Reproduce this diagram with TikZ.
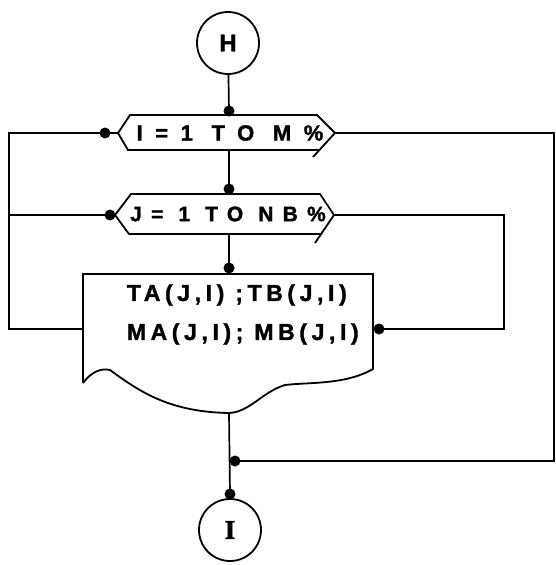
\documentclass[tikz,border=0pt]{standalone}
\usepackage{fontspec}
\setmainfont{Liberation Sans}
\newfontfamily\labfonta{Liberation Sans Bold}[LetterSpace=57,FakeBold=1.5]
\newfontfamily\labfontb{Liberation Sans Bold}[LetterSpace=44,FakeBold=1.5]
\newfontfamily\boxfont{Liberation Sans Bold}[LetterSpace=20,FakeBold=1.5]
\newfontfamily\circfont{Liberation Serif Bold}[FakeBold=1.5]
\newfontfamily\hfont{Liberation Sans Bold}[FakeBold=1.5]
\begin{document}
\begin{tikzpicture}[x=1pt,y=-1pt,line width=1.8pt,
  conn/.style={circle,draw,minimum size=62pt,inner sep=0pt},
  dotm/.style={circle,fill,inner sep=0pt,minimum size=11pt},
  hexlabel/.style={inner sep=0pt},
  boxlabel/.style={inner sep=0pt,anchor=west,font=\boxfont\fontsize{23}{25}\selectfont},
  line/.style={line width=1.7pt}]
\useasboundingbox (0,0) rectangle (555,565);

% connectors (circles)
\node[conn,font=\hfont\fontsize{24}{26}\selectfont] (H) at (228,43) {H};
\node[conn,font=\circfont\fontsize{27}{28}\selectfont] (I) at (230,530) {I};

% loop 1 hexagon
\coordinate (h1w) at (118,133);
\coordinate (h1e) at (335,133);
\coordinate (h1s) at (229,150);
\draw (h1w) -- (130,115) -- (317,115) -- (h1e) -- (313,157);
\draw (h1w) -- (128,150) -- (320,150);
\node[hexlabel,font=\labfonta\fontsize{22}{24}\selectfont] (t1) at (230,133) {I=1 TO M\%};

% loop 2 hexagon
\coordinate (h2w) at (115,215);
\coordinate (h2e) at (334,215);
\coordinate (h2s) at (229,234);
\draw (h2w) -- (131,194) -- (320,194) -- (h2e) -- (315,243);
\draw (h2w) -- (129,234) -- (322,234);
\node[hexlabel,font=\labfontb\fontsize{21}{24}\selectfont] (t2) at (228,214) {J= 1 TO NB\%};

% document box
\coordinate (boxL) at (83,329);
\coordinate (boxR) at (373,329);
\coordinate (boxB) at (229,413);
\draw (83,383) -- (83,274) -- (373,274) -- (373,369)
  .. controls (345,385) and (310,382) .. (285,385)
  .. controls (262,392) and (250,412) .. (boxB)
  .. controls (170,412) and (140,392) .. (110,370)
  .. controls (102,368) and (92,371) .. (83,383);
\node[boxlabel] (b1) at (126,295) {TA(J,I) ;TB(J,I)};
\node[boxlabel] (b2) at (126,334) {MA(J,I); MB(J,I)};

% dots
\node[dotm] (d1) at (229,111) {};
\node[dotm] (d2) at (229,189) {};
\node[dotm] (d3) at (229,268) {};
\node[dotm] (d4) at (105,133) {};
\node[dotm] (d5) at (110,215) {};
\node[dotm] (d6) at (379,329) {};
\node[dotm] (d7) at (235,461) {};
\node[dotm] (d8) at (230,494) {};

\coordinate (lj) at (9,215);
\coordinate (lt) at (9,133);
\coordinate (lb) at (9,329);
\coordinate (rt) at (554,133);
\coordinate (rb) at (554,461);
\coordinate (mt) at (504,215);
\coordinate (mb) at (504,329);

% flow lines
\draw[line] (H) -- (d1.center);
\draw[line] (h1s) -- (d2.center);
\draw[line] (h2s) -- (d3.center);
\draw[line] (boxB) -- (d8.center) -- (I);
\draw[line] (h1e) -- (rt) -- (rb) -- (d7.center);
\draw[line] (boxL) -- (lb) -- (lt) -- (d4.center) -- (h1w);
\draw[line] (lj) -- (d5.center) -- (h2w);
\draw[line] (h2e) -- (mt) -- (mb) -- (d6.center) -- (boxR);
\end{tikzpicture}
\end{document}
